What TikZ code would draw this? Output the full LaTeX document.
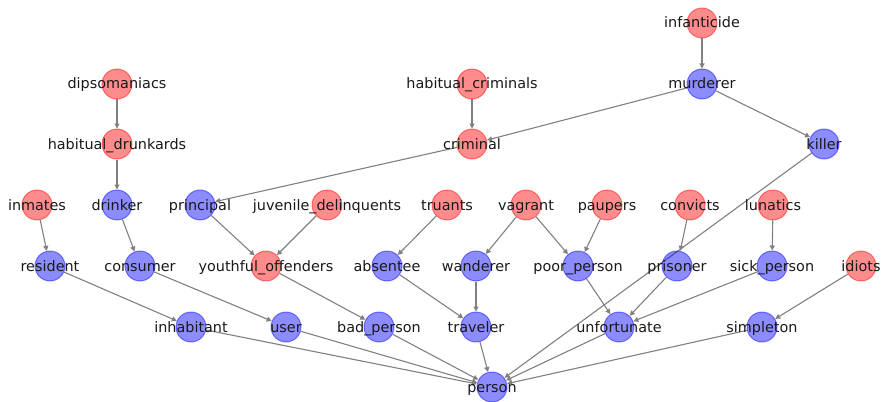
\documentclass[tikz,border=0pt]{standalone}
\usepackage{fontspec}
\setmainfont{DejaVu Sans}
\usetikzlibrary{arrows.meta}
\pgfdeclarelayer{edgelayer}
\pgfsetlayers{edgelayer,main}
\begin{document}
\begin{tikzpicture}[x=1pt,y=-1pt,
  vtx/.style={circle, minimum size=30pt, inner sep=0pt, line width=1pt,
              fill opacity=0.45, draw opacity=0.45},
  rednode/.style={vtx, fill=red, draw=red},
  bluenode/.style={vtx, fill=blue, draw=blue},
  lbl/.style={font=\fontsize{14.4pt}{17pt}\selectfont, text=black!90,
              inner sep=0pt, text height=13.5pt, text depth=3.5pt, text opacity=1},
  link/.style={draw=black!50, line width=1.1pt,
               -{Triangle[length=5pt,width=5pt]}},
]
\useasboundingbox (0,0) rectangle (882,401);

% vertices: red = source terms, blue = hypernyms
\node[rednode,  label={[lbl]center:infanticide}]           (infanticide)  at (702,23)  {};
\node[rednode,  label={[lbl]center:dipsomaniacs}]          (dipsomaniacs) at (117,84)  {};
\node[rednode,  label={[lbl]center:habitual\_criminals}]   (habcrim)      at (472,84)  {};
\node[bluenode, label={[lbl]center:murderer}]              (murderer)     at (702,84)  {};
\node[rednode,  label={[lbl]center:habitual\_drunkards}]   (habdrunk)     at (117,144) {};
\node[rednode,  label={[lbl]center:criminal}]              (criminal)     at (472,144) {};
\node[bluenode, label={[lbl]center:killer}]                (killer)       at (824,144) {};
\node[rednode,  label={[lbl]center:inmates}]               (inmates)      at (37,205)  {};
\node[bluenode, label={[lbl]center:drinker}]               (drinker)      at (117,205) {};
\node[bluenode, label={[lbl]center:principal}]             (principal)    at (200,205) {};
\node[rednode,  label={[lbl]center:juvenile\_delinquents}] (juvenile)     at (327,205) {};
\node[rednode,  label={[lbl]center:truants}]               (truants)      at (447,205) {};
\node[rednode,  label={[lbl]center:vagrant}]               (vagrant)      at (526,205) {};
\node[rednode,  label={[lbl]center:paupers}]               (paupers)      at (607,205) {};
\node[rednode,  label={[lbl]center:convicts}]              (convicts)     at (690,205) {};
\node[rednode,  label={[lbl]center:lunatics}]              (lunatics)     at (773,205) {};
\node[bluenode, label={[lbl]center:resident}]              (resident)     at (50,266)  {};
\node[bluenode, label={[lbl]center:consumer}]              (consumer)     at (140,266) {};
\node[rednode,  label={[lbl]center:youthful\_offenders}]   (youthful)     at (266,266) {};
\node[bluenode, label={[lbl]center:absentee}]              (absentee)     at (387,266) {};
\node[bluenode, label={[lbl]center:wanderer}]              (wanderer)     at (476,266) {};
\node[bluenode, label={[lbl]center:poor\_person}]          (poorperson)   at (578,266) {};
\node[bluenode, label={[lbl]center:prisoner}]              (prisoner)     at (677,266) {};
\node[bluenode, label={[lbl]center:sick\_person}]          (sickperson)   at (772,266) {};
\node[rednode,  label={[lbl]center:idiots}]                (idiots)       at (861,266) {};
\node[bluenode, label={[lbl]center:inhabitant}]            (inhabitant)   at (191,327) {};
\node[bluenode, label={[lbl]center:user}]                  (user)         at (286,327) {};
\node[bluenode, label={[lbl]center:bad\_person}]           (badperson)    at (379,327) {};
\node[bluenode, label={[lbl]center:traveler}]              (traveler)     at (476,327) {};
\node[bluenode, label={[lbl]center:unfortunate}]           (unfortunate)  at (619,327) {};
\node[bluenode, label={[lbl]center:simpleton}]             (simpleton)    at (762,327) {};
\node[bluenode, label={[lbl]center:person}]                (person)       at (492,387) {};

% directed edges, drawn beneath the vertices
\begin{pgfonlayer}{edgelayer}
\draw[link] (infanticide) -- (murderer);
\draw[link] (murderer) -- (criminal);
\draw[link] (murderer) -- (killer);
\draw[link] (criminal) -- (principal);
\draw[link] (habcrim) -- (criminal);
\draw[link] (dipsomaniacs) -- (habdrunk);
\draw[link] (habdrunk) -- (drinker);
\draw[link] (inmates) -- (resident);
\draw[link] (drinker) -- (consumer);
\draw[link] (principal) -- (youthful);
\draw[link] (juvenile) -- (youthful);
\draw[link] (truants) -- (absentee);
\draw[link] (vagrant) -- (wanderer);
\draw[link] (vagrant) -- (poorperson);
\draw[link] (paupers) -- (poorperson);
\draw[link] (convicts) -- (prisoner);
\draw[link] (lunatics) -- (sickperson);
\draw[link] (idiots) -- (simpleton);
\draw[link] (killer) -- (person);
\draw[link] (resident) -- (inhabitant);
\draw[link] (consumer) -- (user);
\draw[link] (youthful) -- (badperson);
\draw[link] (absentee) -- (traveler);
\draw[link] (wanderer) -- (traveler);
\draw[link] (poorperson) -- (unfortunate);
\draw[link] (prisoner) -- (unfortunate);
\draw[link] (sickperson) -- (unfortunate);
\draw[link] (inhabitant) -- (person);
\draw[link] (user) -- (person);
\draw[link] (badperson) -- (person);
\draw[link] (traveler) -- (person);
\draw[link] (unfortunate) -- (person);
\draw[link] (simpleton) -- (person);
\end{pgfonlayer}
\end{tikzpicture}
\end{document}
